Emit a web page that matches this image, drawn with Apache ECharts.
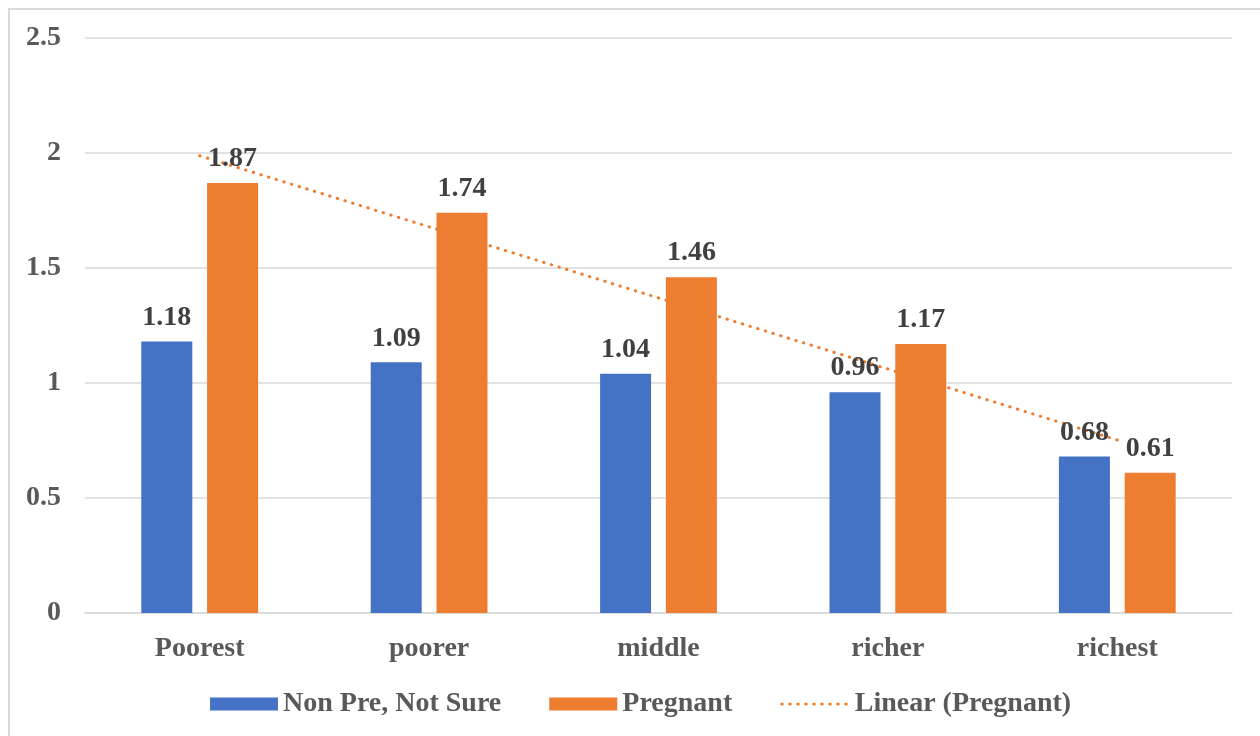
<!DOCTYPE html>
<html>
<head>
<meta charset="utf-8">
<script src="https://cdn.jsdelivr.net/npm/echarts@6/dist/echarts.min.js"></script>
<style>
html,body{margin:0;padding:0;background:#fff;overflow:hidden;}
#frame{position:absolute;left:8px;top:8px;width:1400px;height:900px;border:2px solid #d9d9d9;box-sizing:border-box;}
#chart{position:absolute;left:0;top:0;width:1260px;height:736px;}
</style>
</head>
<body>
<div id="frame"></div>
<div id="chart"></div>
<script>
const categories = ['Poorest', 'poorer', 'middle', 'richer', 'richest'];
const nonPreNotSure = [1.18, 1.09, 1.04, 0.96, 0.68];
const pregnant = [1.87, 1.74, 1.46, 1.17, 0.61];
const seriesNames = ['Non Pre, Not Sure', 'Pregnant', 'Linear (Pregnant)'];
const yTicks = { min: 0, max: 2.5, interval: 0.5 };

// least-squares linear trend of the Pregnant series (Excel "Linear" trendline)
function linearTrend(values) {
  const n = values.length;
  let sx = 0, sy = 0, sxy = 0, sxx = 0;
  values.forEach((v, i) => { const x = i + 1; sx += x; sy += v; sxy += x * v; sxx += x * x; });
  const slope = (n * sxy - sx * sy) / (n * sxx - sx * sx);
  const icpt = (sy - slope * sx) / n;
  return values.map((v, i) => +(icpt + slope * (i + 1)).toFixed(4));
}
const trend = linearTrend(pregnant);

const font = '"Liberation Serif", "Times New Roman", serif';
const dotted = { color: '#ED7D31', width: 3, type: [0.5, 7.5], cap: 'round' };
const chart = echarts.init(document.getElementById('chart'), null, { renderer: 'canvas' });
const labelStyle = {
  show: true, position: 'top', distance: 10,
  fontFamily: font, fontWeight: 'bold', fontSize: 28, color: '#404040'
};
chart.setOption({
  animation: false,
  textStyle: { fontFamily: font },
  grid: { left: 85, right: 28, top: 38, bottom: 123, containLabel: false },
  legend: {
    bottom: 13, left: 205,
    itemWidth: 68, itemHeight: 13, itemGap: 48,
    textStyle: { fontFamily: font, fontWeight: 'bold', fontSize: 28, color: '#595959' },
    data: [
      { name: seriesNames[0], icon: 'rect' },
      { name: seriesNames[1], icon: 'rect' },
      { name: seriesNames[2], itemStyle: { opacity: 0 }, lineStyle: dotted }
    ]
  },
  xAxis: {
    type: 'category', data: categories,
    axisLine: { show: true, lineStyle: { color: '#d9d9d9', width: 1.5 } },
    axisTick: { show: false },
    axisLabel: { margin: 22, fontFamily: font, fontWeight: 'bold', fontSize: 28, color: '#595959' }
  },
  yAxis: {
    type: 'value', min: yTicks.min, max: yTicks.max, interval: yTicks.interval,
    axisLine: { show: false }, axisTick: { show: false },
    splitLine: { lineStyle: { color: '#d9d9d9', width: 1.5 } },
    axisLabel: { margin: 24, lineHeight: 32, padding: [5, 0, 0, 0], fontFamily: font, fontWeight: 'bold', fontSize: 28, color: '#595959' }
  },
  series: [
    {
      name: seriesNames[0], type: 'bar', data: nonPreNotSure,
      barWidth: 51, barGap: '29%',
      itemStyle: { color: '#4472C4' },
      label: labelStyle, z: 2
    },
    {
      name: seriesNames[1], type: 'bar', data: pregnant,
      barWidth: 51,
      itemStyle: { color: '#ED7D31' },
      label: labelStyle, z: 2
    },
    {
      name: seriesNames[2], type: 'line', data: trend,
      symbol: 'none', showSymbol: false, smooth: false,
      lineStyle: dotted,
      itemStyle: { color: '#ED7D31' },
      z: 1
    }
  ]
});
</script>
</body>
</html>
